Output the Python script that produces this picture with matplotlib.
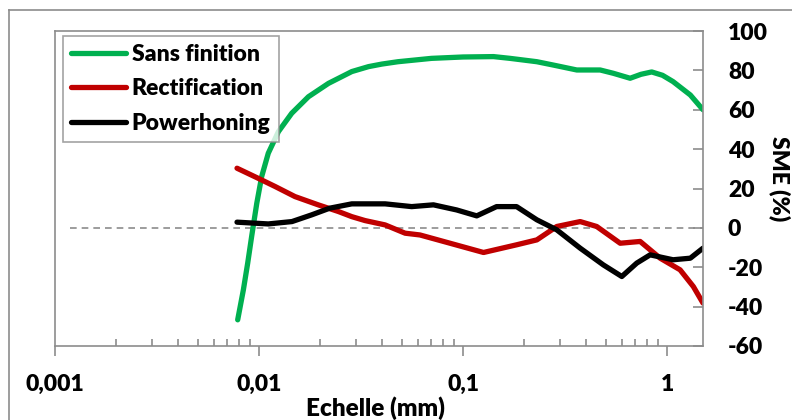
import matplotlib.pyplot as plt
from matplotlib.lines import Line2D
from matplotlib.ticker import LogLocator, FixedLocator, NullFormatter

# data
green_x = [0.00786, 0.00838, 0.0088, 0.0092, 0.00975, 0.0103, 0.0111, 0.01245, 0.01446,
           0.01746, 0.0219, 0.0285, 0.0344, 0.040, 0.048, 0.070, 0.10, 0.141, 0.170,
           0.230, 0.277, 0.361, 0.470, 0.546, 0.659, 0.745, 0.841, 0.95, 1.07, 1.30, 1.5]
green_y = [-46.7, -31.5, -17.9, -4.4, 12.5, 26, 37.9, 48.9, 58.2, 66.6, 73.4, 79.4, 81.9,
           83.2, 84.4, 86.1, 86.8, 87, 86.1, 84.4, 82.7, 80.2, 80.2, 78.5, 76, 78, 79.2,
           77.5, 74.3, 67.5, 60]

red_x = [0.0078, 0.0099, 0.012, 0.015, 0.0195, 0.0245, 0.0285, 0.0331, 0.0415, 0.052,
         0.0615, 0.0863, 0.126, 0.183, 0.230, 0.288, 0.375, 0.452, 0.589, 0.738, 0.925,
         1.158, 1.345, 1.5]
red_y = [30.3, 25.2, 21, 15.9, 11.7, 8.3, 5.7, 3.7, 1.5, -2.7, -3.6, -7.8, -12.5, -8.6,
         -6.1, 0.7, 3.2, 0.7, -7.8, -6.9, -15.4, -21.3, -29.8, -38.2]

black_x = [0.0078, 0.0111, 0.0145, 0.0181, 0.0222, 0.0285, 0.0344, 0.0415, 0.056, 0.0716,
           0.0931, 0.1167, 0.146, 0.183, 0.230, 0.288, 0.375, 0.487, 0.600, 0.710, 0.826,
           1.07, 1.30, 1.5]
black_y = [2.9, 2, 3.2, 6.6, 10, 12.2, 12.2, 12.2, 10.8, 11.7, 9.1, 6.1, 10.8, 10.8, 4.1,
           -1, -10.3, -18.8, -24.7, -17.9, -13.7, -16.2, -15.4, -10.3]

labels = ["Sans finition", "Rectification", "Powerhoning"]
colors = ["#00B050", "#C00000", "#000000"]
x_ticks = [0.001, 0.01, 0.1, 1]
x_ticklabels = ["0,001", "0,01", "0,1", "1"]
y_ticks = [-60, -40, -20, 0, 20, 40, 60, 80, 100]

plt.rcParams['font.family'] = ['Lato', 'DejaVu Sans']
fw = 'heavy'
fs = 16.5
grey = "#8c8c8c"

fig = plt.figure(figsize=(7.92, 4.2), dpi=100)
ax = fig.add_axes([55 / 792, 1 - 346 / 420, 648 / 792, 315 / 420])

# outer chart frame (top and left only visible)
fig.add_artist(Line2D([9 / 792, 9 / 792], [0, 1 - 10 / 420], color=grey, lw=1.2,
                      transform=fig.transFigure))
fig.add_artist(Line2D([9 / 792, 1], [1 - 10 / 420, 1 - 10 / 420], color=grey, lw=1.2,
                      transform=fig.transFigure))

ax.plot([0.00119, 1.5], [0, 0], color=grey, lw=1.2, dashes=(4, 3))

for xs, ys, lab, c in zip([green_x, red_x, black_x], [green_y, red_y, black_y], labels, colors):
    ax.plot(xs, ys, color=c, lw=3.8, label=lab, solid_joinstyle='round',
            solid_capstyle='round')

ax.set_xscale('log')
ax.set_xlim(0.001, 1.5)
ax.set_ylim(-60, 100)

ax.xaxis.set_major_locator(FixedLocator(x_ticks))
ax.set_xticklabels(x_ticklabels, fontsize=fs, fontweight=fw)
ax.xaxis.set_minor_locator(LogLocator(base=10, subs=range(2, 10)))
ax.xaxis.set_minor_formatter(NullFormatter())
ax.tick_params(axis='x', which='major', direction='out', length=7, width=1.2,
               color=grey, pad=13)
ax.tick_params(axis='x', which='minor', direction='in', length=5, width=1.2, color=grey)

ax.yaxis.tick_right()
ax.yaxis.set_label_position('right')
ax.set_yticks(y_ticks)
ax.set_yticklabels([str(v) for v in y_ticks], fontsize=fs, fontweight=fw)
ax.tick_params(axis='y', which='major', direction='in', length=7, width=1.2,
               color=grey, pad=18)

for s in ax.spines.values():
    s.set_color(grey)
    s.set_linewidth(1.2)

ax.set_xlabel("Echelle (mm)", fontsize=17.5, fontweight=fw)
ax.set_ylabel("SME (%)", fontsize=fs, fontweight=fw, rotation=270)
ax.yaxis.set_label_coords(1.135, 0.53)
ax.xaxis.set_label_coords(0.495, -0.16)

leg = ax.legend(loc='upper left', bbox_to_anchor=(8 / 648, 1 - 5 / 315), fontsize=fs,
                frameon=True, fancybox=False, edgecolor=grey, handlelength=2.4,
                handletextpad=0.25, labelspacing=0.58, borderpad=0.35, borderaxespad=0)
leg.get_frame().set_linewidth(1.2)
for t in leg.get_texts():
    t.set_fontweight(fw)

fig.savefig("out.png", dpi=100)
